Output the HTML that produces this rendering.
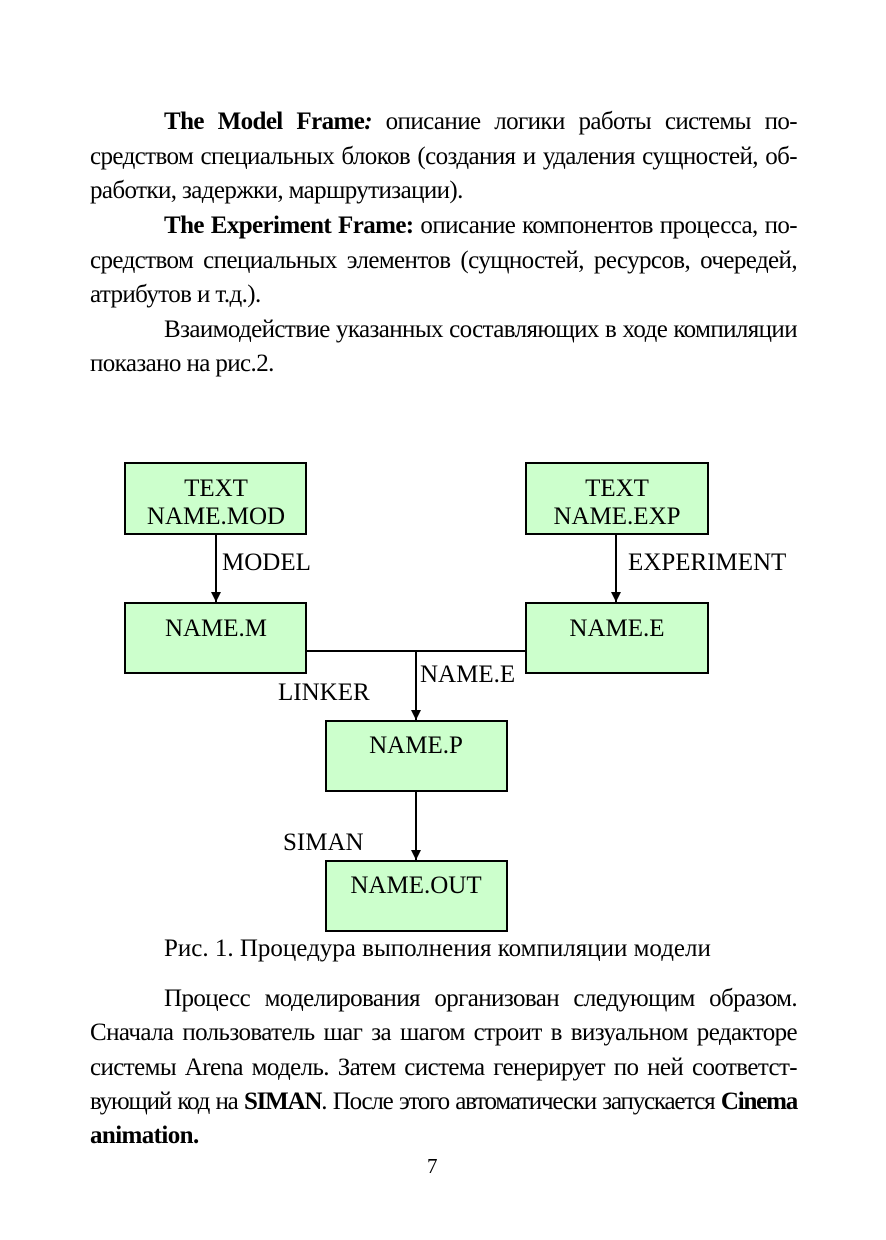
<!DOCTYPE html>
<html><head><meta charset="utf-8"><style>
body{margin:0;width:886px;height:1240px;background:#fff;position:relative;font-family:"Liberation Serif",serif;color:#000;}
.l{position:absolute;left:90px;width:707px;font-size:25px;line-height:28px;white-space:nowrap;letter-spacing:-0.6px;}
.j{text-align:justify;text-align-last:justify;}
.i{left:164px;width:633px;}
svg{position:absolute;left:0;top:0}
</style></head><body>
<div class="l i j" style="top:108px"><b>The Model Frame<i>:</i></b> описание логики работы системы по-</div>
<div class="l j" style="top:143px">средством специальных блоков (создания и удаления сущностей, об-</div>
<div class="l" style="top:177px">работки, задержки, маршрутизации).</div>
<div class="l i j" style="top:212px"><b>The Experiment Frame:</b> описание компонентов процесса, по-</div>
<div class="l j" style="top:247px">средством специальных элементов (сущностей, ресурсов, очередей,</div>
<div class="l" style="top:281px">атрибутов и т.д.).</div>
<div class="l i j" style="top:316px">Взаимодействие указанных составляющих в ходе компиляции</div>
<div class="l" style="top:350px">показано на рис.2.</div>

<svg width="886" height="1240" font-family="Liberation Serif, serif" font-size="25">
<defs><marker id="a" markerWidth="12" markerHeight="12" refX="10" refY="5" orient="auto" markerUnits="userSpaceOnUse"><path d="M0,0 L10,5 L0,10 Z" fill="#000"/></marker></defs>
<g fill="#ccffcc" stroke="#000" stroke-width="2">
<rect x="125" y="463" width="181" height="71"/>
<rect x="526" y="463" width="182" height="71"/>
<rect x="125" y="603" width="181" height="70"/>
<rect x="526" y="603" width="182" height="70"/>
<rect x="326" y="721" width="181" height="70"/>
<rect x="326" y="861" width="181" height="70"/>
</g>
<g stroke="#000" stroke-width="2" fill="none">
<line x1="216" y1="534" x2="216" y2="602" marker-end="url(#a)"/>
<line x1="616" y1="534" x2="616" y2="602" marker-end="url(#a)"/>
<line x1="306" y1="651" x2="526" y2="651"/>
<line x1="416" y1="651" x2="416" y2="720" marker-end="url(#a)"/>
<line x1="416" y1="791" x2="416" y2="860" marker-end="url(#a)"/>
</g>
<g text-anchor="middle">
<text x="216" y="496">TEXT</text><text x="216" y="524">NAME.MOD</text>
<text x="617" y="496">TEXT</text><text x="617" y="524">NAME.EXP</text>
<text x="216" y="636">NAME.M</text><text x="617" y="636">NAME.E</text>
<text x="416" y="753">NAME.P</text><text x="416" y="893">NAME.OUT</text>
</g>
<text x="222" y="570">MODEL</text>
<text x="628" y="570">EXPERIMENT</text>
<text x="420" y="682">NAME.E</text>
<text x="278" y="700">LINKER</text>
<text x="283" y="850">SIMAN</text>
</svg>

<div class="l" style="left:164px;top:935px;letter-spacing:0">Рис. 1. Процедура выполнения компиляции модели</div>
<div class="l i j" style="top:985px">Процесс моделирования организован следующим образом.</div>
<div class="l j" style="top:1019px">Сначала пользователь шаг за шагом строит в визуальном редакторе</div>
<div class="l j" style="top:1054px">системы Arena модель. Затем система генерирует по ней соответст-</div>
<div class="l j" style="top:1088px;letter-spacing:-1.2px;word-spacing:-2px">вующий код на <b>SIMAN</b>. После этого автоматически запускается <b>Cinema</b></div>
<div class="l" style="top:1122px"><b>animation.</b></div>
<div class="l" style="top:1152px;left:0;width:864px;text-align:center;font-size:21px">7</div>
</body></html>
